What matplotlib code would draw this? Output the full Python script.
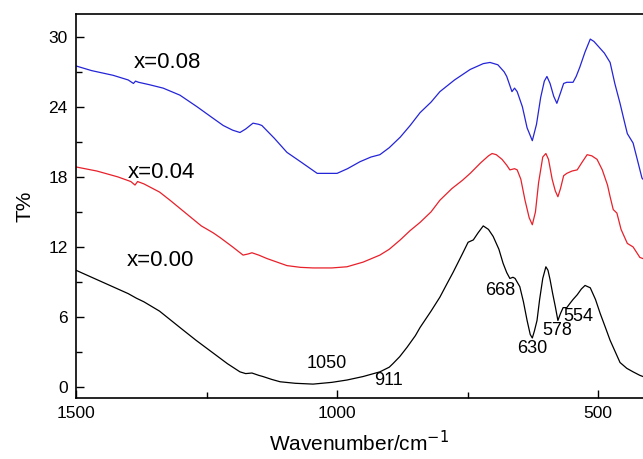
import matplotlib
matplotlib.use("Agg")
import matplotlib.pyplot as plt
from matplotlib.ticker import MultipleLocator

plt.rcParams['font.family'] = ['Liberation Sans', 'DejaVu Sans']

# x = 0.00 (black)
wn_000 = [1500, 1460, 1430, 1400, 1384, 1370, 1340, 1301, 1270, 1237, 1210, 1186, 1175, 1163,
          1150, 1142, 1125, 1109, 1080, 1046, 1010, 981, 950, 918, 900, 893, 880, 866, 850, 841,
          820, 803, 790, 778, 760, 749, 739, 730, 720, 710, 701, 690, 682, 675, 669, 663, 659,
          650, 643, 636, 630, 626, 622, 617, 612, 606, 600, 596, 592, 587, 582, 577, 572, 567,
          560, 555, 548, 540, 532, 525, 515, 505, 496, 486, 477, 467, 458, 445, 433, 420, 414]
t_000 = [10.0, 9.2, 8.6, 8.0, 7.6, 7.3, 6.5, 5.1, 4.0, 2.9, 2.0, 1.3, 1.15, 1.2,
         1.0, 0.9, 0.65, 0.45, 0.32, 0.25, 0.4, 0.6, 0.9, 1.3, 1.7, 2.0, 2.6, 3.4, 4.4, 5.1,
         6.5, 7.7, 8.8, 9.8, 11.4, 12.4, 12.6, 13.2, 13.8, 13.5, 12.9, 11.8, 10.6, 9.8, 9.3, 9.4, 9.3,
         8.6, 7.3, 5.7, 4.5, 4.2, 4.8, 5.7, 7.5, 9.3, 10.3, 10.0, 9.2, 8.0, 6.9, 5.7, 6.3, 6.8,
         6.8, 7.1, 7.5, 7.9, 8.4, 8.7, 8.5, 7.5, 6.3, 5.1, 4.0, 3.0, 2.1, 1.6, 1.3, 1.0, 0.9]

# x = 0.04 (red)
wn_004 = [1500, 1460, 1420, 1395, 1387, 1382, 1370, 1340, 1320, 1290, 1260, 1237, 1224, 1200,
          1180, 1170, 1163, 1150, 1134, 1115, 1096, 1070, 1046, 1010, 981, 950, 918, 900, 879,
          860, 841, 820, 803, 780, 760, 745, 725, 710, 703, 695, 684, 675, 669, 660, 655, 648,
          640, 632, 626, 620, 614, 606, 600, 595, 588, 582, 577, 572, 566, 560, 550, 540, 530,
          521, 512, 502, 492, 482, 477, 471, 464, 456, 444, 433, 420, 414]
t_004 = [18.85, 18.5, 18.0, 17.6, 17.3, 17.6, 17.4, 16.7, 16.0, 14.9, 13.8, 13.2, 12.8, 12.0,
         11.3, 11.4, 11.5, 11.3, 11.0, 10.7, 10.4, 10.25, 10.2, 10.2, 10.3, 10.7, 11.3, 11.8, 12.6,
         13.4, 14.1, 15.0, 16.0, 17.0, 17.7, 18.3, 19.2, 19.8, 20.0, 19.9, 19.5, 19.0, 18.6, 18.7, 18.6, 17.8,
         16.0, 14.5, 13.9, 15.0, 17.5, 19.7, 20.0, 19.5, 17.8, 16.8, 16.3, 17.0, 18.1, 18.3, 18.5, 18.6, 19.3,
         19.9, 19.8, 19.5, 18.6, 17.3, 16.3, 15.2, 14.9, 13.5, 12.3, 12.0, 11.1, 11.0]

# x = 0.08 (blue)
wn_008 = [1500, 1470, 1429, 1400, 1390, 1386, 1380, 1360, 1333, 1301, 1268, 1240, 1218, 1200,
          1186, 1175, 1161, 1150, 1144, 1120, 1096, 1070, 1038, 1000, 980, 956, 935, 918, 900,
          879, 860, 841, 820, 803, 775, 745, 720, 707, 692, 680, 675, 665, 660, 655, 645, 636,
          626, 618, 610, 603, 598, 592, 585, 579, 572, 566, 560, 548, 542, 535, 525, 515, 508,
          496, 488, 477, 468, 458, 450, 444, 433, 425, 416, 414]
t_008 = [27.5, 27.1, 26.7, 26.3, 26.0, 26.2, 26.1, 25.9, 25.6, 25.0, 24.0, 23.1, 22.4, 22.0,
         21.8, 22.1, 22.6, 22.5, 22.4, 21.3, 20.1, 19.3, 18.3, 18.3, 18.7, 19.3, 19.7, 19.9, 20.5,
         21.4, 22.4, 23.5, 24.4, 25.3, 26.3, 27.2, 27.7, 27.8, 27.6, 27.0, 26.6, 25.3, 25.6, 25.3, 24.0, 22.2,
         21.1, 22.5, 24.8, 26.2, 26.6, 26.0, 24.9, 24.3, 25.2, 26.0, 26.1, 26.1, 26.6, 27.4, 28.7, 29.8, 29.6,
         29.0, 28.6, 27.8, 26.0, 24.3, 22.8, 21.7, 20.9, 19.5, 17.9, 17.8]

series_labels = ["x=0.00", "x=0.04", "x=0.08"]
label_pos_x = [1402, 1400, 1389]
label_pos_y = [10.8, 18.4, 27.8]

peak_labels = ["1050", "911", "668", "630", "578", "554"]
peak_x = [1059, 929, 716, 655, 607, 566]
peak_y = [2.0, 0.6, 8.3, 3.3, 4.8, 6.0]

fig = plt.figure(figsize=(6.43, 4.59), dpi=100)
ax = fig.add_axes([76/643, 1 - 398/459, (643 - 76)/643, (398 - 14)/459])

ax.plot(wn_000, t_000, color='black', lw=0.9)
ax.plot(wn_004, t_004, color='#e8202a', lw=0.9)
ax.plot(wn_008, t_008, color='#2424d8', lw=0.9)

for lab, lx, ly in zip(series_labels, label_pos_x, label_pos_y):
    ax.text(lx, ly, lab, fontsize=16, ha='left', va='center')
for lab, lx, ly in zip(peak_labels, peak_x, peak_y):
    ax.text(lx, ly, lab, fontsize=13, ha='left', va='center')

ax.set_xlim(1500, 414)
ax.set_ylim(-0.94, 31.95)
ax.xaxis.set_major_locator(MultipleLocator(500))
ax.xaxis.set_minor_locator(MultipleLocator(250))
ax.yaxis.set_major_locator(MultipleLocator(6))
ax.yaxis.set_minor_locator(MultipleLocator(3))
ax.tick_params(which='both', direction='in', top=False, right=False, width=1.0)
ax.tick_params(which='major', length=6, labelsize=12.5, pad=6)
ax.tick_params(which='minor', length=4)
for s in ['left', 'bottom', 'top']:
    ax.spines[s].set_linewidth(1.2)
ax.spines['right'].set_visible(False)

ax.set_xlabel("Wavenumber/cm$^{-1}$", fontsize=15, labelpad=6)
ax.set_ylabel("T%", fontsize=15, labelpad=10)

fig.savefig("out.png", dpi=100)
